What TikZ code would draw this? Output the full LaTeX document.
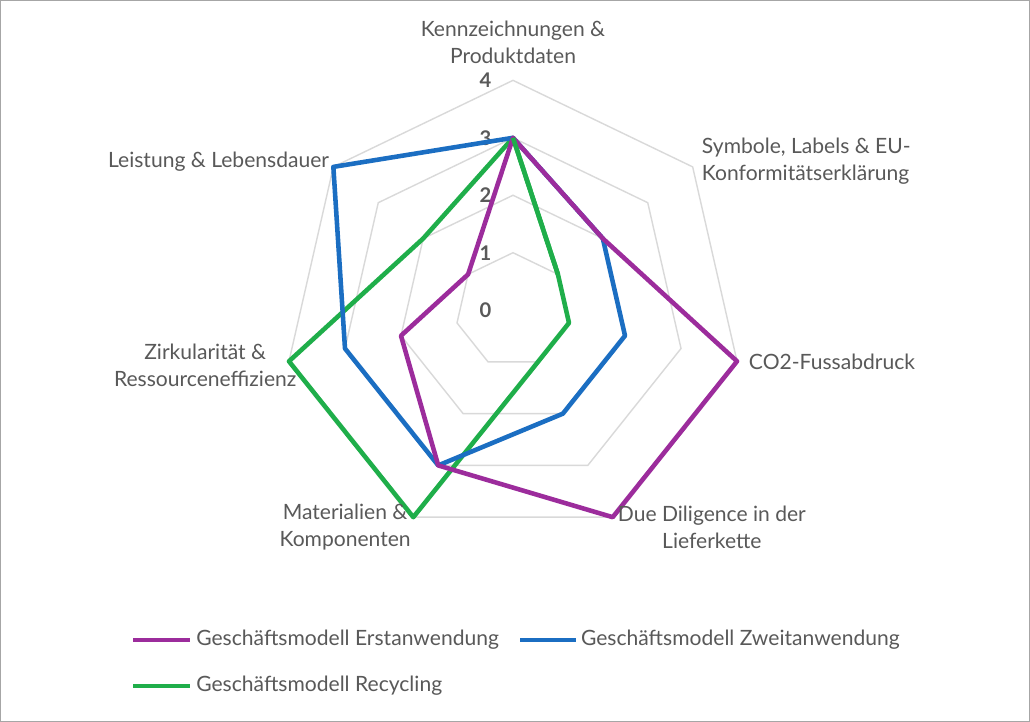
\documentclass[tikz,border=0pt]{standalone}
\usepackage{fontspec}
\setmainfont{Lato}
\definecolor{txt}{HTML}{595959}
\definecolor{cpur}{HTML}{9C2C9C}
\definecolor{cblu}{HTML}{1B6EC2}
\definecolor{cgrn}{HTML}{1FAE4A}
\definecolor{grd}{HTML}{D9D9D9}
\tikzset{lbl/.style={text=txt,font=\fontsize{12pt}{15.3pt}\selectfont,inner sep=1pt},
 ser/.style={line width=2.6pt,line join=round},
 tick/.style={text=txt,font=\bfseries\fontsize{11.5pt}{13pt}\selectfont}}
\begin{document}
\begin{tikzpicture}[x=0.02cm,y=-0.02cm]
\draw[fill=white,draw=gray!70] (0,0) rectangle (1030,721);
\useasboundingbox (0,0) rectangle (1030,721);
\begin{scope}[shift={(513,310)},x=1.15cm,y=1.15cm]
\foreach \r in {1,2,3,4}
  \draw[grd,line width=0.8pt] (90:\r) \foreach \k in {1,...,6}{ -- ({90-\k*360/7}:\r)} -- cycle;
\foreach \r in {0,...,4} \node[tick] (t\r) at (-0.48,\r) {\r};
\draw[ser,cgrn] (90:3) -- ({90-360/7}:1) -- ({90-2*360/7}:1) -- ({90-3*360/7}:1) -- ({90-4*360/7}:4) -- ({90-5*360/7}:4) -- ({90-6*360/7}:2) -- cycle;
\draw[ser,cblu] (90:3) -- ({90-360/7}:2) -- ({90-2*360/7}:2) -- ({90-3*360/7}:2) -- ({90-4*360/7}:3) -- ({90-5*360/7}:3) -- ({90-6*360/7}:4) -- cycle;
\draw[ser,cpur] (90:3) -- ({90-360/7}:2) -- ({90-2*360/7}:4) -- ({90-3*360/7}:4) -- ({90-4*360/7}:3) -- ({90-5*360/7}:2) -- ({90-6*360/7}:1) -- cycle;
\draw[ser,cgrn] (90:3) -- ({90-360/7}:1);
\end{scope}
\node[lbl,align=center] (a1) at (513,42) {Kennzeichnungen \&\\Produktdaten};
\node[lbl,align=left,anchor=west] (a2) at (700,161) {Symbole, Labels \& EU-\\Konformitätserklärung};
\node[lbl,anchor=west] (a3) at (747,362) {CO2-Fussabdruck};
\node[lbl,align=center] (a4) at (712,527) {Due Diligence in der\\Lieferkette};
\node[lbl,align=center] (a5) at (345,527) {Materialien \&\\Komponenten};
\node[lbl,align=center] (a6) at (205,365) {Zirkularität \&\\Ressourceneffizienz};
\node[lbl,anchor=east] (a7) at (331,161) {Leistung \& Lebensdauer};
\coordinate (l1a) at (133,640); \coordinate (l1b) at (190,640);
\draw[ser,cpur] (l1a) -- (l1b);
\node[lbl,anchor=west] (g1) at (194,640) {Geschäftsmodell Erstanwendung};
\coordinate (l2a) at (520,640); \coordinate (l2b) at (576,640);
\draw[ser,cblu] (l2a) -- (l2b);
\node[lbl,anchor=west] (g2) at (579,640) {Geschäftsmodell Zweitanwendung};
\coordinate (l3a) at (133,686); \coordinate (l3b) at (190,686);
\draw[ser,cgrn] (l3a) -- (l3b);
\node[lbl,anchor=west] (g3) at (194,686) {Geschäftsmodell Recycling};
\end{tikzpicture}
\end{document}
